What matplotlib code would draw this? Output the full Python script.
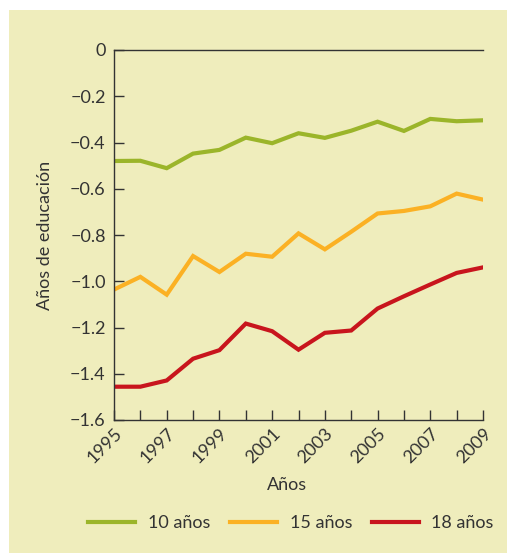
import matplotlib.pyplot as plt
import matplotlib.patches as mpatches

plt.rcParams.update({"font.family": ["Lato", "DejaVu Sans"], "font.size": 13})

BG = "#EFEDBC"
DARK = "#333333"
GREEN = "#9BB52A"; ORANGE = "#FBB124"; RED = "#C8151D"

years = list(range(1995, 2010))
edu_10 = [-0.48, -0.479, -0.511, -0.448, -0.432, -0.379, -0.403, -0.360,
          -0.380, -0.349, -0.310, -0.350, -0.298, -0.308, -0.304]
edu_15 = [-1.036, -0.981, -1.058, -0.891, -0.960, -0.881, -0.894, -0.793,
          -0.862, -0.786, -0.707, -0.696, -0.676, -0.621, -0.647]
edu_18 = [-1.456, -1.456, -1.429, -1.335, -1.298, -1.183, -1.216, -1.296,
          -1.223, -1.213, -1.118, -1.065, -1.014, -0.964, -0.940]
labels = ["10 años", "15 años", "18 años"]

fig = plt.figure(figsize=(5.07, 5.53), dpi=100, facecolor="white")
# panel de fondo
fig.patches.append(mpatches.Rectangle((9 / 507, 0), 1, 1 - 10 / 553,
                                      transform=fig.transFigure,
                                      facecolor=BG, edgecolor="none", zorder=-10))

ax = fig.add_axes([114 / 507, 1 - 420 / 553, 369 / 507, 370 / 553])
ax.set_facecolor(BG)

for vals, col, lab in zip([edu_10, edu_15, edu_18], [GREEN, ORANGE, RED], labels):
    ax.plot(years, vals, color=col, lw=3, label=lab, solid_joinstyle="miter")

ax.set_xlim(1995, 2009)
ax.set_ylim(-1.6, 0)
ax.set_xticks(years)
ax.set_xticklabels([str(y) if y % 2 == 1 else "" for y in years],
                   rotation=45, ha="right", va="top", rotation_mode="anchor")
ax.set_yticks([0, -0.2, -0.4, -0.6, -0.8, -1.0, -1.2, -1.4, -1.6])
ax.set_yticklabels(["0", "\u22120.2", "\u22120.4", "\u22120.6", "\u22120.8",
                    "\u22121.0", "\u22121.2", "\u22121.4", "\u22121.6"])
ax.tick_params(direction="in", length=7.5, width=1, color=DARK, labelcolor=DARK,
               labelsize=13)
ax.tick_params(axis="x", pad=4)
ax.tick_params(axis="y", pad=6)
for s in ["left", "top", "bottom"]:
    ax.spines[s].set_color(DARK); ax.spines[s].set_linewidth(1)
ax.spines["right"].set_visible(False)

ax.set_xlabel("Años", color=DARK, fontsize=13)
ax.xaxis.set_label_coords(0.469, -0.155)
ax.set_ylabel("Años de educación", color=DARK, fontsize=13, labelpad=12)

ax.legend(loc="center", bbox_to_anchor=(291 / 507, 1 - 523 / 553),
          bbox_transform=fig.transFigure, ncol=3, frameon=False,
          handlelength=2.6, handletextpad=0.7, columnspacing=1.1, fontsize=13,
          labelcolor=DARK)

fig.savefig("out.png", dpi=100, facecolor="white")
